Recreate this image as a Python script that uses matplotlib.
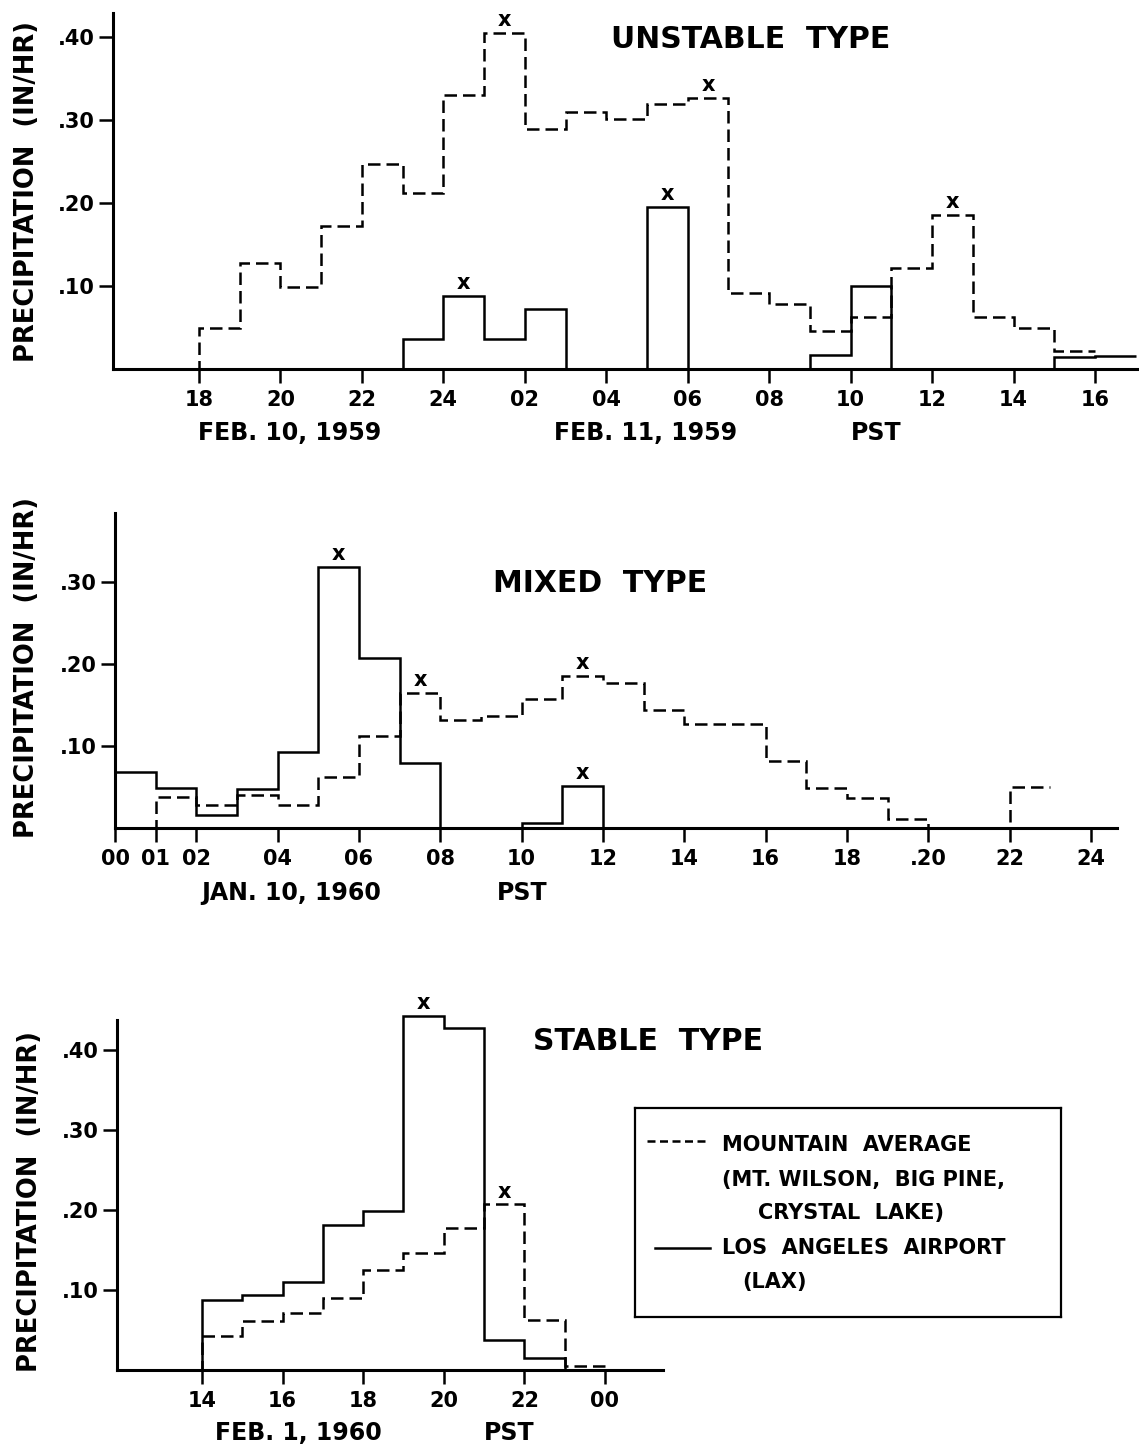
import numpy as np
import matplotlib.pyplot as plt

plt.rcParams['font.family'] = ['DejaVu Sans']
plt.rcParams['font.weight'] = 'bold'

# ---- data (precipitation, in/hr, hourly steps) ----
# unstable type: Feb 10-11, 1959 (hours counted from 00 Feb 10)
unst_mtn_start = 17
unst_mtn = [0, 0.049, 0.128, 0.099, 0.172, 0.247, 0.212, 0.330, 0.405, 0.289,
            0.310, 0.301, 0.319, 0.327, 0.092, 0.078, 0.046, 0.063, 0.122,
            0.186, 0.063, 0.049, 0.022]
unst_lax_start = 22
unst_lax = [0, 0.036, 0.088, 0.036, 0.072, 0, 0, 0.195, 0, 0, 0, 0.017, 0.100,
            0, 0, 0, 0, 0.014, 0.016]
unst_ticks = [18, 20, 22, 24, 26, 28, 30, 32, 34, 36, 38, 40]
unst_ticklabels = ['18', '20', '22', '24', '02', '04', '06', '08', '10', '12', '14', '16']
unst_peaks_mtn = [25.5, 30.5, 36.5]
unst_peaks_lax = [24.5, 29.5]

# mixed type: Jan 10, 1960
mix_mtn_start = 0
mix_mtn = [0, 0.038, 0.028, 0.040, 0.028, 0.062, 0.112, 0.165, 0.132, 0.137,
           0.157, 0.185, 0.177, 0.144, 0.127, 0.127, 0.082, 0.049, 0.037,
           0.011, 0, 0, 0.050]
mix_lax_start = 0
mix_lax = [0.068, 0.049, 0.016, 0.048, 0.093, 0.318, 0.207, 0.079, 0, 0,
           0.006, 0.051, 0]
mix_ticks = [0, 1, 2, 4, 6, 8, 10, 12, 14, 16, 18, 20, 22, 24]
mix_ticklabels = ['00', '01', '02', '04', '06', '08', '10', '12', '14', '16', '18', '.20', '22', '24']
mix_peaks_mtn = [7.5, 11.5]
mix_peaks_lax = [5.5, 11.5]

# stable type: Feb 1, 1960
stab_mtn_start = 13
stab_mtn = [0, 0.042, 0.061, 0.071, 0.090, 0.125, 0.146, 0.177, 0.207, 0.063, 0.005]
stab_lax_start = 13
stab_lax = [0, 0.087, 0.094, 0.110, 0.181, 0.199, 0.443, 0.427, 0.037, 0.015, 0, 0]
stab_ticks = [14, 16, 18, 20, 22, 24]
stab_ticklabels = ['14', '16', '18', '20', '22', '00']
stab_peaks_mtn = [21.5]
stab_peaks_lax = [19.5]

W, H = 1139, 1448
fig = plt.figure(figsize=(W / 100, H / 100), dpi=100)


def rect(x0, y0, x1, y1):
    return [x0 / W, 1 - y1 / H, (x1 - x0) / W, (y1 - y0) / H]


def ftext(x, y, s, **kw):
    fig.text(x / W, 1 - y / H, s, **kw)


DASH = (0, (5, 2.4))


def panel(ax, xlim, ylim, ticks, ticklabels, yticks):
    ax.set_xlim(*xlim)
    ax.set_ylim(0, ylim)
    for s in ('top', 'right'):
        ax.spines[s].set_visible(False)
    for s in ('left', 'bottom'):
        ax.spines[s].set_linewidth(2.2)
    ax.set_xticks(ticks)
    ax.set_xticklabels(ticklabels, fontsize=15)
    ax.set_yticks(yticks)
    ax.set_yticklabels(['.%02d' % round(v * 100) for v in yticks], fontsize=15)
    ax.tick_params(direction='out', length=10, width=1.8, pad=5)
    ax.tick_params(axis='y', pad=3)
    ax.patch.set_alpha(0)


def series(ax, start, vals, dashed, peaks):
    edges = start + np.arange(len(vals) + 1)
    ax.stairs(vals, edges, baseline=None, color='black', lw=1.8,
              linestyle=DASH if dashed else '-', clip_on=False)
    for p in peaks:
        v = vals[int(np.floor(p - start))]
        ax.annotate('x', (p, v), xytext=(0, 2), textcoords='offset points',
                    ha='center', va='bottom', fontsize=15, fontweight='bold',
                    annotation_clip=False)


ylab = 'PRECIPITATION  (IN/HR)'

# unstable
ax1 = fig.add_axes(rect(113, 13, 1139, 369))
panel(ax1, (15.89, 41.08), 0.429, unst_ticks, unst_ticklabels, [0.1, 0.2, 0.3, 0.4])
series(ax1, unst_mtn_start, unst_mtn, True, unst_peaks_mtn)
series(ax1, unst_lax_start, unst_lax, False, unst_peaks_lax)
ftext(751, 40, 'UNSTABLE  TYPE', fontsize=21.5, ha='center', va='center')
ftext(290, 433, 'FEB. 10, 1959', fontsize=17, ha='center', va='center')
ftext(646, 433, 'FEB. 11, 1959', fontsize=17, ha='center', va='center')
ftext(876, 433, 'PST', fontsize=17, ha='center', va='center')
ftext(27, 192, ylab, fontsize=18.5, rotation=90, ha='center', va='center')

# mixed
ax2 = fig.add_axes(rect(115, 513, 1117, 828))
panel(ax2, (0, 24.64), 0.384, mix_ticks, mix_ticklabels, [0.1, 0.2, 0.3])
series(ax2, mix_mtn_start, mix_mtn, True, mix_peaks_mtn)
series(ax2, mix_lax_start, mix_lax, False, mix_peaks_lax)
ftext(600, 584, 'MIXED  TYPE', fontsize=21.5, ha='center', va='center')
ftext(291, 893, 'JAN. 10, 1960', fontsize=17, ha='center', va='center')
ftext(522, 893, 'PST', fontsize=17, ha='center', va='center')
ftext(27, 668, ylab, fontsize=18.5, rotation=90, ha='center', va='center')

# stable
ax3 = fig.add_axes(rect(117, 1020, 663, 1370))
panel(ax3, (11.89, 25.44), 0.4375, stab_ticks, stab_ticklabels, [0.1, 0.2, 0.3, 0.4])
series(ax3, stab_mtn_start, stab_mtn, True, stab_peaks_mtn)
series(ax3, stab_lax_start, stab_lax, False, stab_peaks_lax)
ftext(648, 1042, 'STABLE  TYPE', fontsize=21.5, ha='center', va='center')
ftext(298, 1433, 'FEB. 1, 1960', fontsize=17, ha='center', va='center')
ftext(509, 1433, 'PST', fontsize=17, ha='center', va='center')
ftext(30, 1202, ylab, fontsize=18.5, rotation=90, ha='center', va='center')

# legend box
lg = fig.add_axes(rect(635, 1108, 1061, 1317))
lg.set_xlim(0, 426)
lg.set_ylim(209, 0)
lg.set_xticks([])
lg.set_yticks([])
for s in lg.spines.values():
    s.set_linewidth(1.6)
lg.plot([12, 70], [33, 33], color='black', lw=1.8, linestyle=(0, (3.2, 1.8)))
lg.plot([20, 75], [140, 140], color='black', lw=1.8)
lkw = dict(fontsize=15, va='center', ha='left')
lg.text(87, 37, 'MOUNTAIN  AVERAGE', **lkw)
lg.text(87, 72, '(MT. WILSON,  BIG PINE,', **lkw)
lg.text(123, 105, 'CRYSTAL  LAKE)', **lkw)
lg.text(87, 140, 'LOS  ANGELES  AIRPORT', **lkw)
lg.text(107, 174, '(LAX)', **lkw)

fig.savefig('out.png', dpi=100)
